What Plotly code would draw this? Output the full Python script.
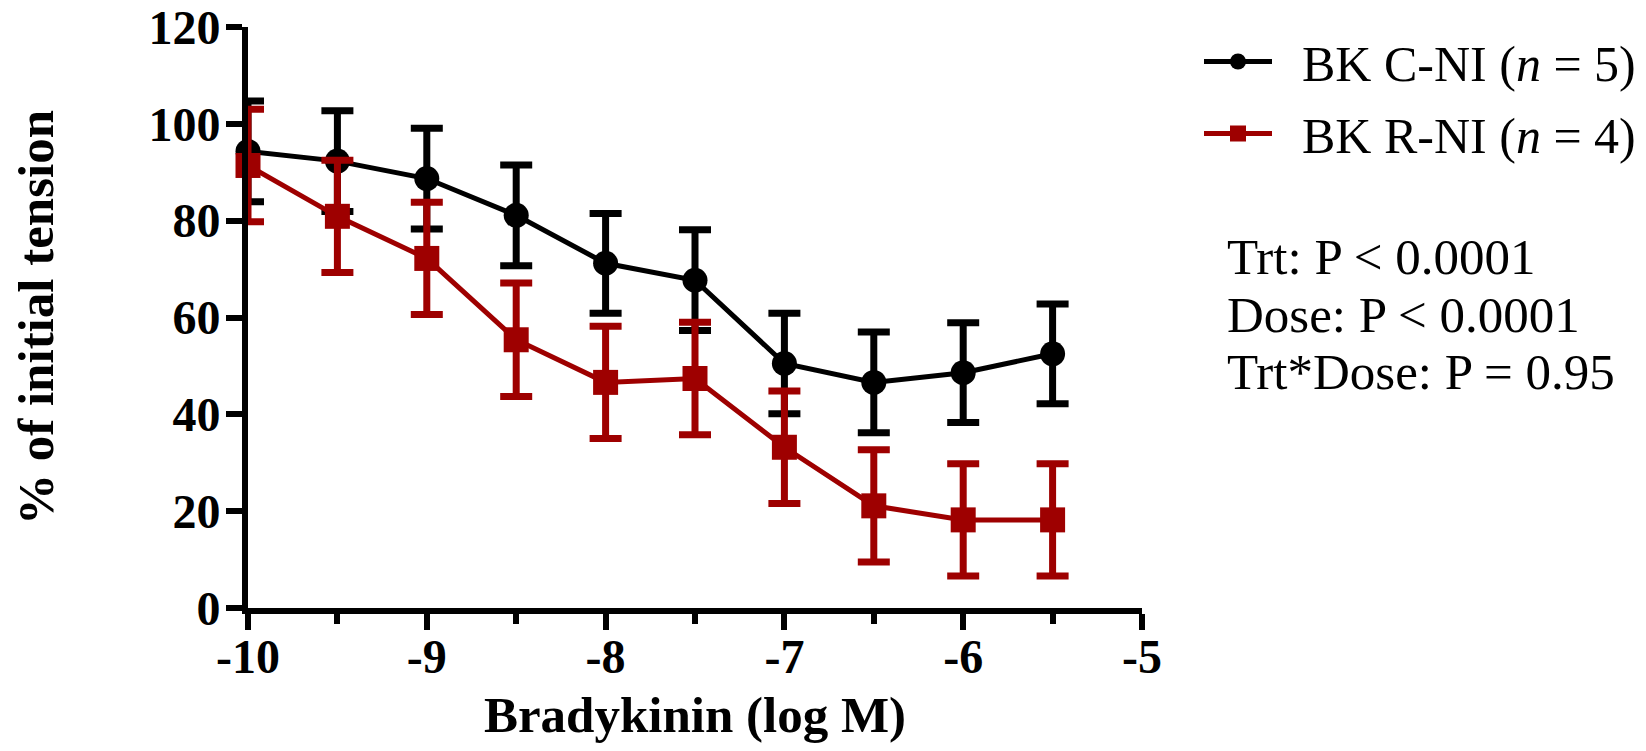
import plotly.graph_objects as go

# ---- data ----
log_dose = [-10, -9.5, -9, -8.5, -8, -7.5, -7, -6.5, -6, -5.5]
cni_mean = [94.3, 92.3, 88.7, 81.1, 71.2, 67.7, 50.5, 46.6, 48.6, 52.5]
cni_sem = [10.4, 10.4, 10.4, 10.4, 10.3, 10.4, 10.4, 10.4, 10.3, 10.3]
rni_mean = [91.4, 80.9, 72.2, 55.4, 46.6, 47.4, 33.2, 21.1, 18.2, 18.2]
rni_sem = [11.6, 11.6, 11.6, 11.7, 11.6, 11.6, 11.6, 11.6, 11.6, 11.6]

series_names = ["&nbsp;&nbsp;BK C-NI (<i>n</i> = 5)", "&nbsp;&nbsp;BK R-NI (<i>n</i> = 4)"]
stats_lines = ["Trt: P &lt; 0.0001", "Dose: P &lt; 0.0001", "Trt*Dose: P = 0.95"]

x_ticks = [-10, -9, -8, -7, -6, -5]
y_ticks = [0, 20, 40, 60, 80, 100, 120]

BLACK = "#000000"
RED = "#9E0000"
FONT = "Liberation Serif"

fig = go.Figure()
fig.add_trace(go.Scatter(
    x=log_dose, y=cni_mean, name=series_names[0], mode="lines+markers",
    legendgroup="cni",
    line=dict(color=BLACK, width=5),
    marker=dict(symbol="circle", size=25, color=BLACK),
    error_y=dict(type="data", array=cni_sem, visible=True, color=BLACK,
                 thickness=7, width=16),
    cliponaxis=False,
))
fig.add_trace(go.Scatter(
    x=log_dose, y=rni_mean, name=series_names[1], mode="lines+markers",
    legendgroup="rni",
    line=dict(color=RED, width=5),
    marker=dict(symbol="square", size=25, color=RED),
    error_y=dict(type="data", array=rni_sem, visible=True, color=RED,
                 thickness=7, width=16),
    cliponaxis=False,
))

# The page body has an 8 px margin; the figure is sized so that it fills
# the 1646 x 751 window exactly. Geometry below is in window pixels.
OFF = 8
W, H = 1646 - 2 * OFF, 751 - 2 * OFF
L, R, T, B = 248, 1142, 27, 608   # plot area in window pixels


def px_x(px):
    return (px - L) / (R - L)


def px_y(py):
    return (B - py) / (B - T)


stat_y = [257, 315, 372]
for txt, py in zip(stats_lines, stat_y):
    fig.add_annotation(
        text=txt, xref="paper", yref="paper", x=px_x(1225), y=px_y(py),
        xanchor="left", yanchor="middle", showarrow=False,
        font=dict(family=FONT, size=51, color=BLACK),
    )

fig.update_layout(
    width=W, height=H,
    margin=dict(l=L - OFF, r=W - (R - OFF), t=T - OFF, b=H - (B - OFF),
                autoexpand=False),
    paper_bgcolor="white", plot_bgcolor="white",
    font=dict(family=FONT, color=BLACK),
    showlegend=True,
    legend=dict(
        x=px_x(1199), y=px_y(22.5), xanchor="left", yanchor="top",
        font=dict(family=FONT, size=50, color=BLACK),
        bgcolor="rgba(0,0,0,0)", itemwidth=68,
        traceorder="grouped", tracegroupgap=4,
    ),
    xaxis=dict(
        range=[-10, -5], tickvals=x_ticks, ticktext=[str(v) for v in x_ticks],
        showgrid=False, zeroline=False, automargin=False,
        showline=True, linecolor=BLACK, linewidth=6,
        ticks="outside", ticklen=16, tickwidth=6, tickcolor=BLACK,
        ticklabelstandoff=-15,
        minor=dict(dtick=0.5, tick0=-10, ticks="outside", ticklen=10,
                   tickwidth=6, tickcolor=BLACK, showgrid=False),
        tickfont=dict(family=FONT, size=48, color=BLACK, weight="bold"),
        title=dict(text="Bradykinin (log M)", standoff=20,
                   font=dict(family=FONT, size=51, color=BLACK, weight="bold")),
    ),
    yaxis=dict(
        range=[0, 120], tickvals=y_ticks, ticktext=[str(v) for v in y_ticks],
        showgrid=False, zeroline=False, automargin=False,
        showline=True, linecolor=BLACK, linewidth=6,
        ticks="outside", ticklen=16, tickwidth=6, tickcolor=BLACK,
        ticklabeloverflow="allow", ticklabelstandoff=-4,
        tickfont=dict(family=FONT, size=48, color=BLACK, weight="bold"),
        title=dict(text="% of initial tension", standoff=83,
                   font=dict(family=FONT, size=51, color=BLACK, weight="bold")),
    ),
)

fig.write_html("out.html")
